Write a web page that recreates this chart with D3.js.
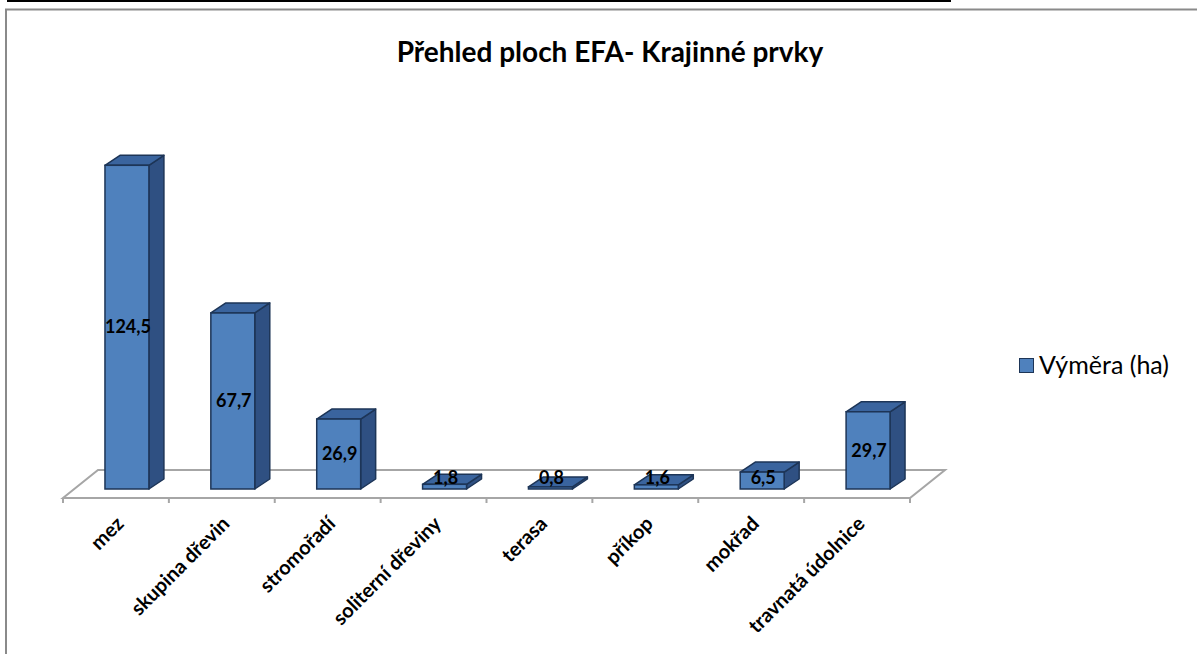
<!DOCTYPE html>
<html>
<head>
<meta charset="utf-8">
<script src="https://cdn.jsdelivr.net/npm/d3@7"></script>
<style>
  body { margin: 0; background: #fff; }
  svg { display: block; font-family: Lato, "Open Sans", sans-serif; }
</style>
</head>
<body>
<div id="chart"></div>
<script>
// Data
const categories = ['mez', 'skupina dřevin', 'stromořadí', 'soliterní dřeviny', 'terasa', 'příkop', 'mokřad', 'travnatá údolnice'];
const values = [124.5, 67.7, 26.9, 1.8, 0.8, 1.6, 6.5, 29.7];
const labels = ['124,5', '67,7', '26,9', '1,8', '0,8', '1,6', '6,5', '29,7'];
const seriesName = 'Výměra (ha)';
const title = 'Přehled ploch EFA- Krajinné prvky';

const width = 1197, height = 654;

const svg = d3.select('#chart')
  .append('svg')
  .attr('width', width)
  .attr('height', height);

// cut-off document line at the top + chart frame
svg.append('line')
  .attr('x1', 7).attr('x2', 951).attr('y1', 1).attr('y2', 1)
  .attr('stroke', '#000').attr('stroke-width', 2);
svg.append('rect')
  .attr('x', 6).attr('y', 9.5).attr('width', width + 10).attr('height', height)
  .attr('fill', 'none').attr('stroke', '#8a8a8a').attr('stroke-width', 2);

// scales
const floorFront = 498;
const floorDepth = [35, -28];
const x = d3.scaleBand().domain(categories).range([63, 910]);
const y = d3.scaleLinear().domain([0, 130]).range([489, 489 - 130 * 2.6]);

// floor
const fl = [[63, floorFront], [910, floorFront],
  [910 + floorDepth[0], floorFront + floorDepth[1]], [63 + floorDepth[0], floorFront + floorDepth[1]]];
svg.append('path')
  .attr('d', 'M' + fl.map(p => p.join(',')).join('L') + 'Z')
  .attr('fill', 'none')
  .attr('stroke', '#a6a6a6')
  .attr('stroke-width', 2);

// axis ticks
svg.append('g')
  .selectAll('line')
  .data(d3.range(categories.length + 1))
  .enter().append('line')
  .attr('x1', i => 63 + i * x.step())
  .attr('x2', i => 63 + i * x.step())
  .attr('y1', floorFront)
  .attr('y2', floorFront + 5)
  .attr('stroke', '#a6a6a6')
  .attr('stroke-width', 2);

// 3D bars
const barW = x.bandwidth() * 0.415;
const shift = 11;            // front face offset into the floor
const dep = [15, -10];       // bar depth vector
const stroke = '#1d3557';

const bars = svg.append('g')
  .selectAll('g')
  .data(categories.map((c, i) => ({ c, v: values[i], label: labels[i] })))
  .enter().append('g');

bars.each(function (d) {
  const g = d3.select(this);
  const x0 = x(d.c) + x.bandwidth() / 2 + shift - barW / 2;
  const x1 = x0 + barW;
  const yb = y(0), yt = y(d.v);
  // side face
  g.append('path')
    .attr('d', `M${x1},${yb}L${x1 + dep[0]},${yb + dep[1]}L${x1 + dep[0]},${yt + dep[1]}L${x1},${yt}Z`)
    .attr('fill', '#2f5082').attr('stroke', stroke).attr('stroke-width', 1.5).attr('stroke-linejoin', 'round');
  // top face
  g.append('path')
    .attr('d', `M${x0},${yt}L${x0 + dep[0]},${yt + dep[1]}L${x1 + dep[0]},${yt + dep[1]}L${x1},${yt}Z`)
    .attr('fill', '#3a649e').attr('stroke', stroke).attr('stroke-width', 1.5).attr('stroke-linejoin', 'round');
  // front face
  g.append('rect')
    .attr('x', x0).attr('y', yt).attr('width', barW).attr('height', yb - yt)
    .attr('fill', '#4f81bd').attr('stroke', stroke).attr('stroke-width', 1.5);
  // value label
  const ly = Math.min((yb + yt) / 2, yb - 11);
  g.append('text')
    .attr('x', x0 + barW / 2 + 1)
    .attr('y', ly)
    .attr('dy', '0.35em')
    .attr('text-anchor', 'middle')
    .attr('font-size', 18)
    .attr('font-weight', 'bold')
    .attr('fill', '#000')
    .text(d.label);
});

// category labels
svg.append('g')
  .selectAll('text')
  .data(categories)
  .enter().append('text')
  .attr('transform', c => `translate(${x(c) + x.bandwidth() / 2 + 9},${525}) rotate(-45)`)
  .attr('text-anchor', 'end')
  .attr('font-size', 20)
  .attr('font-weight', 'bold')
  .attr('fill', '#000')
  .text(c => c);

// title
svg.append('text')
  .attr('x', 610)
  .attr('y', 62)
  .attr('text-anchor', 'middle')
  .attr('font-size', 28)
  .attr('font-weight', 'bold')
  .text(title);

// legend
svg.append('rect')
  .attr('x', 1019.5).attr('y', 358.5).attr('width', 14).attr('height', 14)
  .attr('fill', '#4f81bd').attr('stroke', stroke).attr('stroke-width', 1);
svg.append('text')
  .attr('x', 1039)
  .attr('y', 374)
  .attr('font-size', 25)
  .text(seriesName);
</script>
</body>
</html>
